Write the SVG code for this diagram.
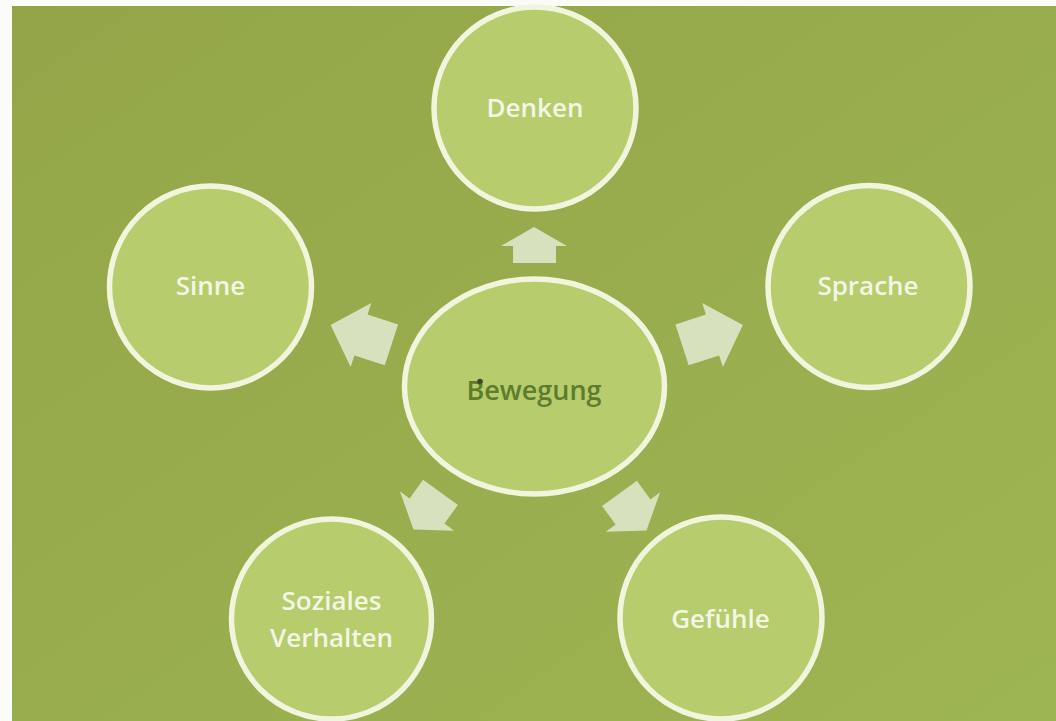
<svg xmlns="http://www.w3.org/2000/svg" width="1056" height="721" viewBox="0 0 1056 721">
  <defs>
    <linearGradient id="bg" x1="0" y1="0" x2="1" y2="1">
      <stop offset="0" stop-color="#93a548"/>
      <stop offset="1" stop-color="#9eb553"/>
    </linearGradient>
    <style>
      .node { fill: #b6cc6d; stroke: #f2f5de; stroke-width: 5.5; }
      .lbl { font-family: "Open Sans", "Liberation Sans", sans-serif; font-weight: 600; font-size: 26px; fill: #f4f6e4; text-anchor: middle; }
      .center-lbl { font-family: "Open Sans", "Liberation Sans", sans-serif; font-weight: 600; font-size: 27px; fill: #5e7c2c; text-anchor: middle; }
      .arrow { fill: #d7e1be; stroke: none; }
    </style>
  </defs>

  <rect x="0" y="0" width="1056" height="721" fill="#fbfcf8"/>
  <rect x="12" y="6" width="1044" height="715" fill="url(#bg)"/>

  <g id="connectors">
    <polygon class="arrow" points="534,227 567,246 556,246 556,263 513,263 513,246 501,246"/>
    <polygon class="arrow" points="742.9,325.1 722.9,366.9 719.1,355.4 688.7,365.3 675.4,324.4 705.9,314.6 702.2,303.1"/>
    <polygon class="arrow" points="330.6,325.1 350.6,366.9 354.4,355.4 384.8,365.3 398.1,324.4 367.6,314.6 371.3,303.1"/>
    <polygon class="arrow" points="413.5,529.6 454.1,530.7 444.4,523.6 457.9,505 423.1,479.8 409.6,498.4 399.9,491.3"/>
    <polygon class="arrow" points="646.5,530.6 660.1,492.3 650.4,499.4 636.9,480.8 602.1,506 615.6,524.6 605.9,531.7"/>
  </g>

  <g id="node-denken">
    <circle class="node" cx="535" cy="108" r="101"/>
    <text class="lbl" x="535" y="117">Denken</text>
  </g>

  <g id="node-sinne">
    <circle class="node" cx="210.5" cy="287" r="101"/>
    <text class="lbl" x="210.5" y="295">Sinne</text>
  </g>

  <g id="node-sprache">
    <circle class="node" cx="869" cy="286.5" r="101"/>
    <text class="lbl" x="868" y="295">Sprache</text>
  </g>

  <g id="node-bewegung">
    <ellipse class="node" cx="534.5" cy="386.5" rx="130" ry="107.5"/>
    <text class="center-lbl" x="534" y="400">Bewegung</text>
    <circle cx="480" cy="381.5" r="2.8" fill="#3b4a2a"/>
  </g>

  <g id="node-soziales">
    <circle class="node" cx="331.5" cy="619" r="100"/>
    <text class="lbl" x="331.5" y="610">Soziales</text>
    <text class="lbl" x="331.5" y="647">Verhalten</text>
  </g>

  <g id="node-gefuehle">
    <circle class="node" cx="721" cy="618" r="101"/>
    <text class="lbl" x="720.5" y="628">Gefühle</text>
  </g>
</svg>
